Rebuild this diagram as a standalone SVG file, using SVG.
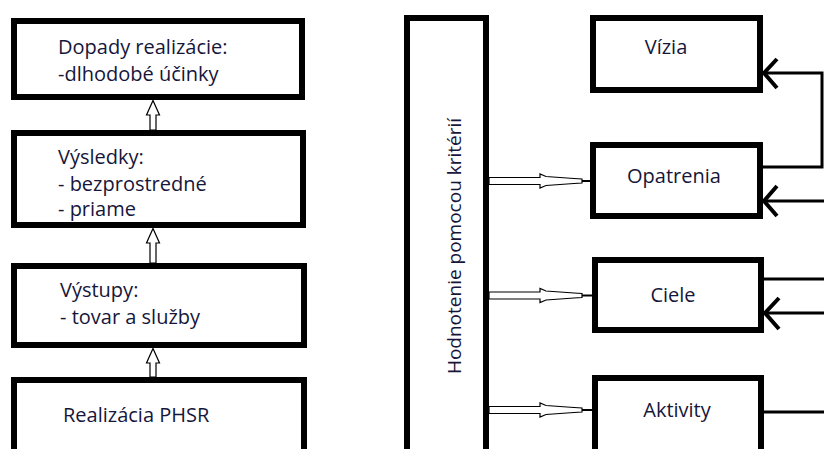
<svg xmlns="http://www.w3.org/2000/svg" width="824" height="449" viewBox="0 0 824 449">
<style>
.box{fill:#fff;stroke:#000;stroke-width:6}
.t{font-family:"Open Sans","Liberation Sans",sans-serif;font-size:20px;fill:#16163a}
.v{font-size:19px}
.c{stroke:#000;stroke-width:3;fill:none}
.hollow{fill:#fff;stroke:#000;stroke-width:1.2;stroke-linejoin:miter}
.chev{stroke:#000;stroke-width:4;fill:none;stroke-linecap:butt}
</style>
<rect width="824" height="449" fill="#fff"/>
<g id="dopady">
<rect class="box" x="14" y="21" width="288" height="76"/>
<text class="t" x="58" y="54">Dopady realizácie:</text>
<text class="t" x="58" y="81">-dlhodobé účinky</text>
</g>
<g id="vysledky">
<rect class="box" x="14" y="133" width="289" height="92"/>
<text class="t" x="58" y="164">Výsledky:</text>
<text class="t" x="58" y="191">- bezprostredné</text>
<text class="t" x="58" y="216">- priame</text>
</g>
<g id="vystupy">
<rect class="box" x="14" y="266" width="290" height="79"/>
<text class="t" x="60" y="297">Výstupy:</text>
<text class="t" x="60" y="324">- tovar a služby</text>
</g>
<g id="realizacia">
<rect class="box" x="14" y="380" width="290" height="100"/>
<text class="t" x="63" y="422">Realizácia PHSR</text>
</g>
<g id="hodnotenie">
<rect class="box" x="407" y="18" width="79" height="500"/>
<text class="t v" transform="translate(461,246) rotate(-90)" text-anchor="middle">Hodnotenie pomocou kritérií</text>
</g>
<g id="vizia">
<rect class="box" x="593" y="18" width="167" height="72"/>
<text class="t" x="666" y="54" text-anchor="middle">Vízia</text>
</g>
<g id="opatrenia">
<rect class="box" x="593" y="145" width="167" height="71"/>
<text class="t" x="674" y="183" text-anchor="middle">Opatrenia</text>
</g>
<g id="ciele">
<rect class="box" x="595" y="260" width="166" height="70"/>
<text class="t" x="673" y="302" text-anchor="middle">Ciele</text>
</g>
<g id="aktivity">
<rect class="box" x="595" y="378" width="166" height="100"/>
<text class="t" x="677" y="417" text-anchor="middle">Aktivity</text>
</g>
<g id="connectors">
<path class="hollow" d="M150,130 V115 H146.5 L153,100.5 L159.5,115 H156 V130 Z"/>
<path class="hollow" d="M150,263 V243 H146.5 L153,228.5 L159.5,243 H156 V263 Z"/>
<path class="hollow" d="M150,377 V363 H146.5 L153,348.5 L159.5,363 H156 V377 Z"/>
<g id="h-opatrenia">
<path class="hollow" d="M489,177.5 H540 V174 L546,176.5 L574,178.5 L582,179 V183 L574,183.5 L546,185.5 L540,188 V184.5 H489 Z"/>
<line x1="582" y1="181" x2="591" y2="181" stroke="#000" stroke-width="2"/>
</g>
<g id="h-ciele">
<path class="hollow" d="M489,292 H540 V288.5 L546,291 L574,293 L582,293.5 V297.5 L574,298 L546,300 L540,302.5 V299 H489 Z"/>
<line x1="582" y1="295.5" x2="593" y2="295.5" stroke="#000" stroke-width="2"/>
</g>
<g id="h-aktivity">
<path class="hollow" d="M489,406.5 H540 V403 L546,405.5 L574,407.5 L582,408 V412 L574,412.5 L546,414.5 L540,417 V413.5 H489 Z"/>
<line x1="582" y1="410" x2="593" y2="410" stroke="#000" stroke-width="2"/>
</g>
<polyline class="c" points="763,167 822,167 822,73 764,73"/>
<polyline class="chev" points="777,59 764,73 777,88"/>
<line class="c" x1="824" y1="201" x2="764" y2="201"/>
<polyline class="chev" points="777,186 764,201 777,216"/>
<line class="c" x1="764" y1="279" x2="824" y2="279"/>
<line class="c" x1="824" y1="313" x2="765" y2="313"/>
<polyline class="chev" points="779,298 765,313 779,329"/>
<line class="c" x1="764" y1="412" x2="824" y2="412"/>
</g>
</svg>
